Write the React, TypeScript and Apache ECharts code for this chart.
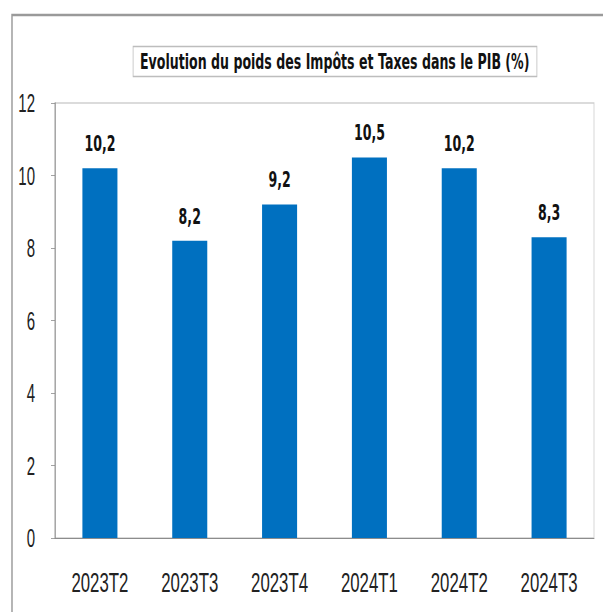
import React, { useEffect, useRef } from "react";
import * as echarts from "echarts";

const categories = ["2023T2", "2023T3", "2023T4", "2024T1", "2024T2", "2024T3"];
const values = [10.2, 8.2, 9.2, 10.5, 10.2, 8.3];
const titleText = "Evolution du poids des Impôts et Taxes dans le PIB (%)";

// The reference is drawn in a condensed face; we render wide and squeeze horizontally.
const SQ = 0.6;
const PAGE_W = 603;
const PAGE_H = 612;
const INNER_W = Math.round(PAGE_W / SQ);
const px = (v: number) => v / SQ;

const FONT = "'Liberation Sans', Arial, sans-serif";
const BOLD_FONT = "'DejaVu Sans', 'Liberation Sans', sans-serif";

export default function App() {
  const ref = useRef<HTMLDivElement>(null);
  useEffect(() => {
    document.body.style.margin = "0";
    const chart = echarts.init(ref.current!, null, { renderer: "svg" });
    chart.setOption({
      animation: false,
      backgroundColor: "#ffffff",
      title: {
        text: titleText,
        left: px(133),
        top: 46,
        padding: [5, px(7)],
        borderColor: "#bdbdbd",
        borderWidth: 1.3,
        textStyle: { fontFamily: BOLD_FONT, fontWeight: "bold", fontSize: 21, color: "#111" },
      },
      graphic: [
        {
          type: "rect",
          shape: { x: px(12), y: 15, width: INNER_W, height: PAGE_H },
          style: { fill: "none", stroke: "#9a9a9a", lineWidth: 2.4 },
          silent: true,
        },
      ],
      grid: {
        left: px(55),
        right: px(9),
        top: 103,
        bottom: 74,
        show: true,
        borderColor: "#cfcfcf",
        borderWidth: 1.4,
      },
      xAxis: {
        type: "category",
        data: categories,
        axisLine: { lineStyle: { color: "#8c8c8c", width: 1.2 } },
        axisTick: { show: false },
        axisLabel: { fontFamily: FONT, fontSize: 28, color: "#222", margin: 30 },
      },
      yAxis: {
        type: "value",
        min: 0,
        max: 12,
        interval: 2,
        splitLine: { show: false },
        axisLine: { show: true, lineStyle: { color: "#8c8c8c", width: 1.7 } },
        axisTick: { show: true, length: px(4), lineStyle: { color: "#8c8c8c", width: 1 } },
        axisLabel: { fontFamily: FONT, fontSize: 25, color: "#222", margin: px(20) },
      },
      series: [
        {
          type: "bar",
          data: values,
          barWidth: "39%",
          itemStyle: { color: "#0070C0" },
          label: {
            show: true,
            position: "top",
            distance: 14,
            fontFamily: BOLD_FONT,
            fontWeight: "bold",
            fontSize: 21,
            color: "#111",
            formatter: (p: any) => String(p.value).replace(".", ","),
          },
        },
      ],
    });
    return () => chart.dispose();
  }, []);
  return (
    <div style={{ width: PAGE_W, height: PAGE_H, overflow: "hidden", position: "relative" }}>
      <div
        ref={ref}
        style={{
          width: INNER_W,
          height: PAGE_H,
          transform: `scaleX(${SQ})`,
          transformOrigin: "0 0",
        }}
      />
    </div>
  );
}
